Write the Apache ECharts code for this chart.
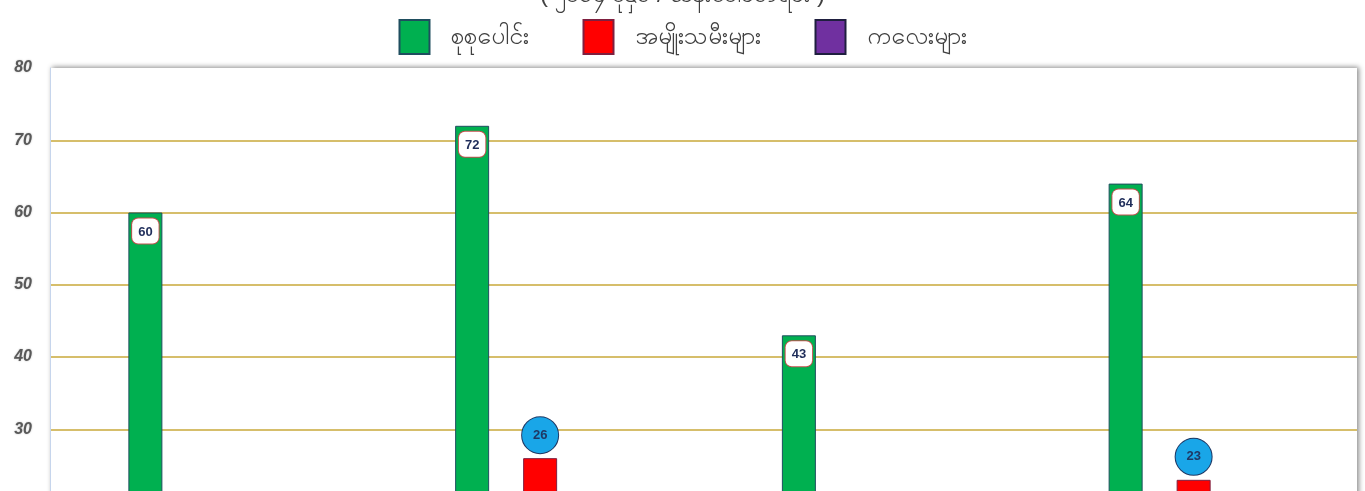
<!DOCTYPE html>
<html>
<head>
<meta charset="utf-8">
<script src="https://cdn.jsdelivr.net/npm/echarts@6/dist/echarts.min.js"></script>
<style>
html,body{margin:0;padding:0;background:#fff;}
#chart{width:1365px;height:491px;}
</style>
</head>
<body>
<div id="chart"></div>
<script>
const titleText = '( ၂၀၁၄ ခုနှစ် / သန်းခေါင်စာရင်း )';
const categories = ['ကချင်', 'ကယား', 'ကရင်', 'ချင်း'];
const seriesNames = ['စုစုပေါင်း', 'အမျိုးသမီးများ', 'ကလေးများ'];
const totalValues = [60, 72, 43, 64];
const womenValues = [12, 26, 8, 23];
const childValues = [5, 9, 4, 7];
const yTicks = [0, 10, 20, 30, 40, 50, 60, 70, 80];

const chart = echarts.init(document.getElementById('chart'));
const gridColors = yTicks.map((t, i) => i === yTicks.length - 1 ? 'rgba(0,0,0,0)' : '#c9a83a');

chart.setOption({
  animation: false,
  title: {
    text: titleText,
    left: 'center',
    top: -22,
    textStyle: {fontSize: 24, color: '#404040', fontWeight: 'normal'}
  },
  legend: {
    data: seriesNames,
    top: 14,
    left: 'center',
    itemWidth: 30,
    itemHeight: 34,
    itemGap: 54,
    icon: 'rect',
    textStyle: {fontSize: 25, color: '#404040', padding: [0, 0, 0, 16]}
  },
  grid: {
    left: 50, top: 68, width: 1307, height: 578,
    outerBoundsMode: 'none',
    containLabel: false,
    show: true,
    backgroundColor: '#fff',
    borderWidth: 0,
    shadowColor: 'rgba(0,0,0,0.45)',
    shadowBlur: 5,
    shadowOffsetX: 2,
    shadowOffsetY: -1
  },
  xAxis: {
    type: 'category',
    data: categories,
    axisTick: {show: false},
    axisLine: {show: false},
    axisLabel: {show: false}
  },
  yAxis: {
    type: 'value',
    min: 0, max: 80, interval: 10,
    axisLine: {show: true, lineStyle: {color: '#c6d5ec', width: 1}},
    axisTick: {show: false},
    axisLabel: {
      margin: 18,
      fontStyle: 'italic',
      fontWeight: 'bold',
      fontSize: 16,
      fontFamily: 'Liberation Sans',
      color: '#595959',
      textShadowColor: 'rgba(0,0,0,0.25)',
      textShadowBlur: 2
    },
    splitLine: {show: true, lineStyle: {color: gridColors, width: 1.5}}
  },
  series: [
    {
      name: seriesNames[0], type: 'bar', data: totalValues,
      barWidth: 34, barGap: '100%',
      itemStyle: {color: '#00b050', borderColor: '#1f4e5f', borderWidth: 1},
      label: {
        show: true, position: 'insideTop', distance: 6,
        backgroundColor: '#fff', borderColor: '#c0504d', borderWidth: 1, borderRadius: 6,
        padding: [7, 6, 5, 6], color: '#1f2d5a', fontWeight: 'bold', fontSize: 13,
        fontFamily: 'Liberation Sans'
      }
    },
    {
      name: seriesNames[1], type: 'bar', data: womenValues,
      barWidth: 34, barGap: '100%',
      itemStyle: {color: '#ff0000', borderColor: '#7f1f3f', borderWidth: 1},
      label: {
        show: true, position: 'top', distance: 5,
        backgroundColor: '#19a6e8', borderColor: '#1f3864', borderWidth: 1, borderRadius: 18,
        width: 36, height: 36, lineHeight: 36, align: 'center',
        color: '#1f3864', fontWeight: 'bold', fontSize: 13, fontFamily: 'Liberation Sans'
      }
    },
    {
      name: seriesNames[2], type: 'bar', data: childValues,
      barWidth: 34, barGap: '100%',
      itemStyle: {color: '#7030a0', borderColor: '#1f1f3f', borderWidth: 1},
      label: {
        show: true, position: 'top', distance: 5,
        color: '#1f3864', fontWeight: 'bold', fontSize: 13
      }
    }
  ]
});
</script>
</body>
</html>
